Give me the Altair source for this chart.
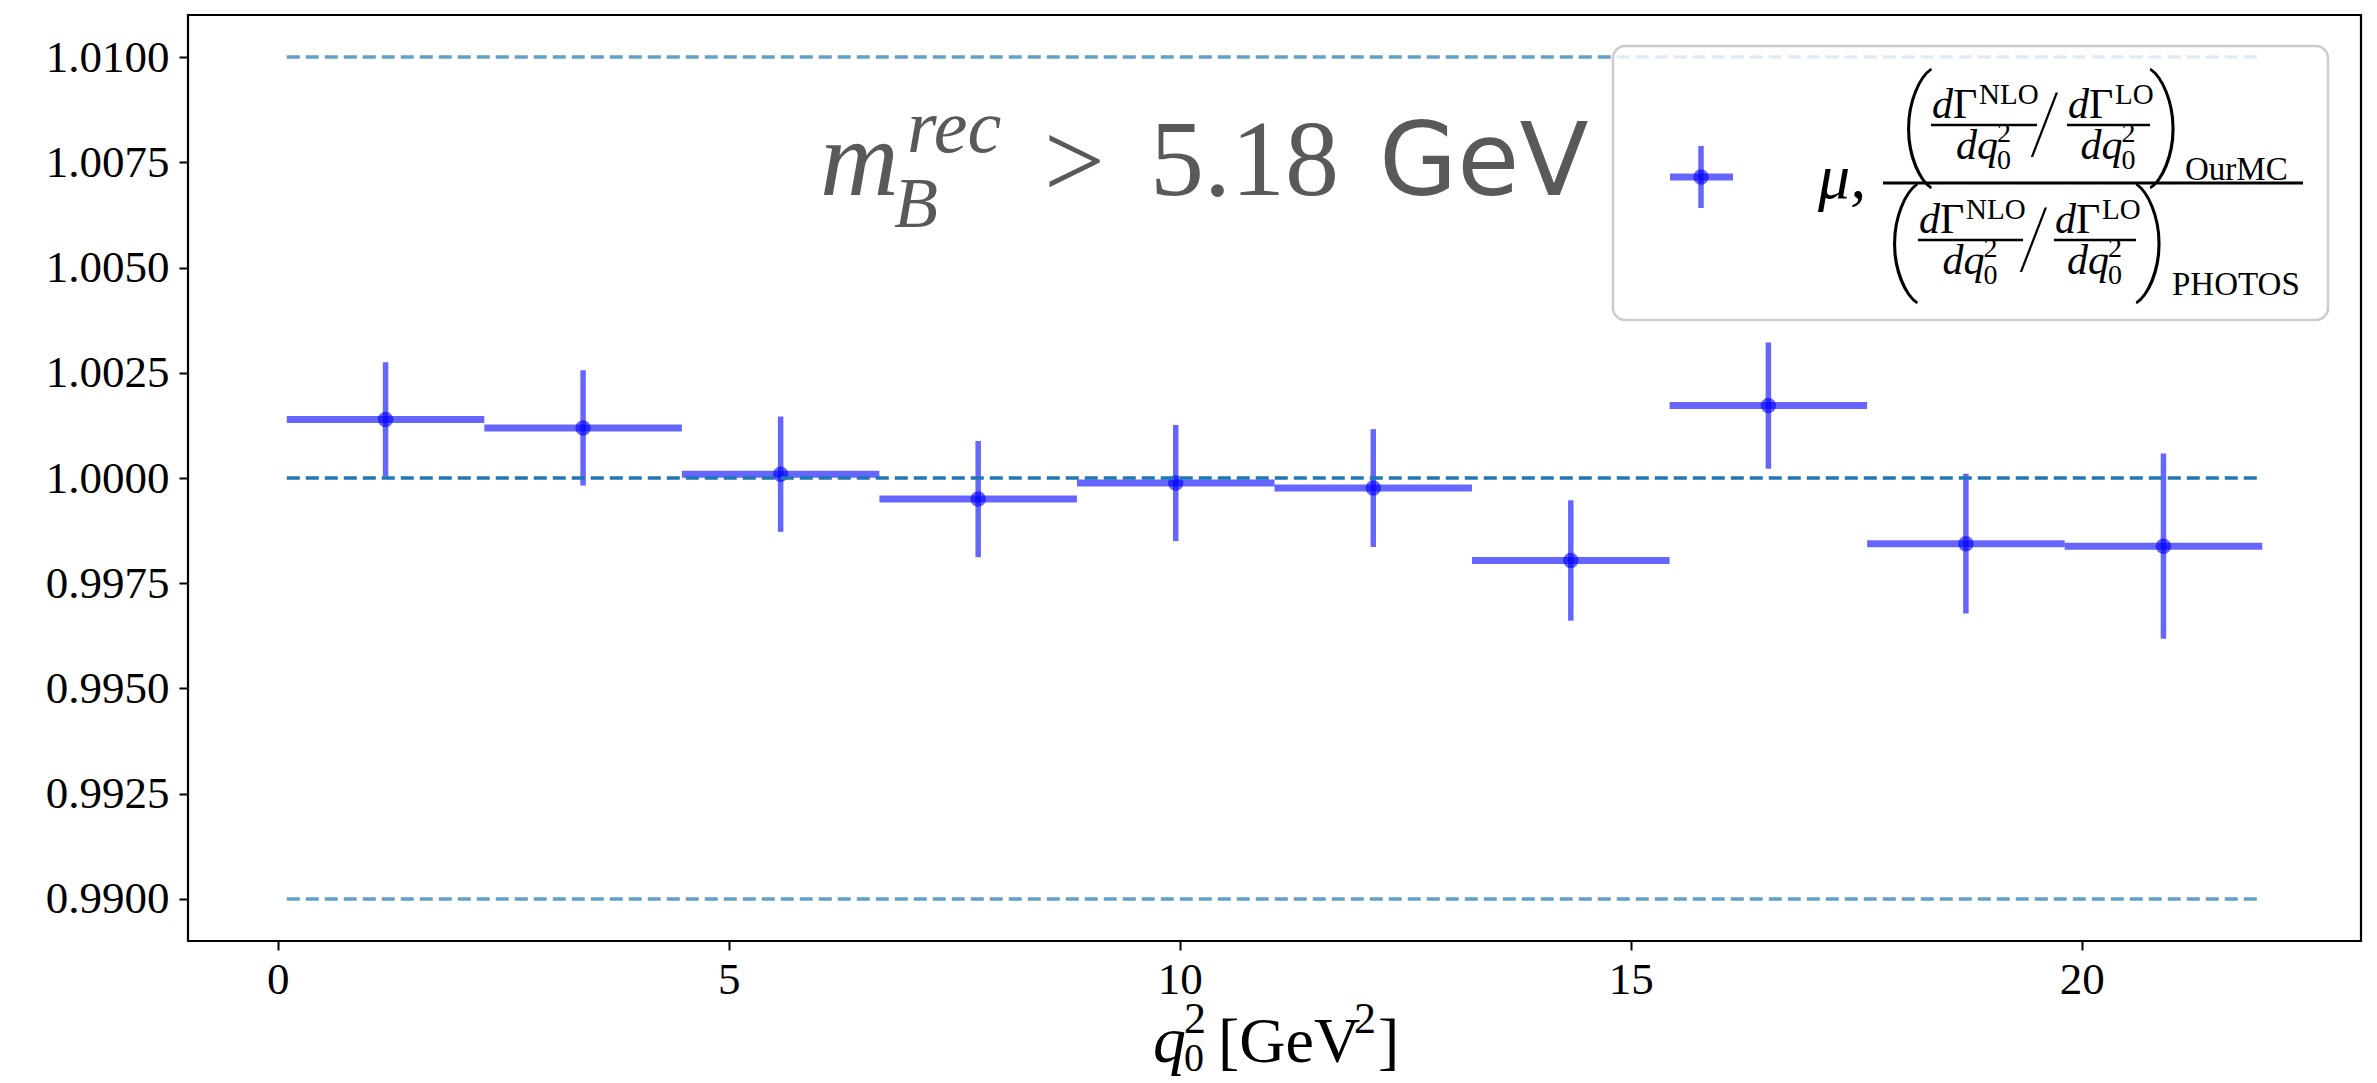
import altair as alt
import pandas as pd

# ---------------- data ----------------
bin_lo = [0.10, 2.29, 4.48, 6.67, 8.86, 11.05, 13.24, 15.43, 17.62, 19.81]
bin_hi = [2.29, 4.48, 6.67, 8.86, 11.05, 13.24, 15.43, 17.62, 19.81, 22.00]
bin_center = [1.195, 3.385, 5.575, 7.765, 9.955, 12.145, 14.335, 16.525, 18.715, 20.905]
ratio = [1.00139, 1.00119, 1.00009, 0.99950, 0.99988, 0.99976, 0.99804, 1.00172, 0.99844, 0.99838]
ratio_err = [0.00136, 0.00137, 0.00137, 0.00138, 0.00138, 0.00140, 0.00143, 0.00150, 0.00166, 0.00220]

band_levels = [0.99, 1.01]
center_level = [1.0]
ref_x_start = 0.1
ref_x_end = 22.0

x_ticks = [0, 5, 10, 15, 20]
y_ticks = [0.99, 0.9925, 0.995, 0.9975, 1.0, 1.0025, 1.005, 1.0075, 1.01]

df = pd.DataFrame({
    "lo": bin_lo, "hi": bin_hi, "x": bin_center,
    "y": ratio, "err": ratio_err,
})
df["ylo"] = df["y"] - df["err"]
df["yhi"] = df["y"] + df["err"]

bands = pd.DataFrame({"level": band_levels, "x0": ref_x_start, "x1": ref_x_end})
centre = pd.DataFrame({"level": center_level, "x0": ref_x_start, "x1": ref_x_end})

# ---------------- layout ----------------
W, H = 2173, 926
PAD = {"left": 188, "top": 15, "right": 16, "bottom": 142}

xscale = alt.Scale(domain=[-0.995, 23.095], nice=False, zero=False)
yscale = alt.Scale(domain=[0.989, 1.011], nice=False, zero=False)
xaxis = alt.Axis(values=x_ticks, format="d", title=None, labelPadding=7)
yaxis = alt.Axis(values=y_ticks, format=".4f", title=None, labelPadding=10)

ERR_COLOR = "blue"
ERR_OP = 0.6
TAB_BLUE = "#1f77b4"
SERIF = "Liberation Serif"
GREY = "#595959"

hbars = alt.Chart(df).mark_rule(color=ERR_COLOR, opacity=ERR_OP, strokeWidth=7).encode(
    x=alt.X("lo:Q", scale=xscale, axis=xaxis),
    x2="hi:Q",
    y=alt.Y("y:Q", scale=yscale, axis=yaxis),
)
vbars = alt.Chart(df).mark_rule(color=ERR_COLOR, opacity=ERR_OP, strokeWidth=5.5).encode(
    x=alt.X("x:Q", scale=xscale, axis=xaxis),
    y=alt.Y("ylo:Q", scale=yscale, axis=yaxis),
    y2="yhi:Q",
)
dots = alt.Chart(df).mark_circle(color=ERR_COLOR, opacity=ERR_OP, size=240).encode(
    x=alt.X("x:Q", scale=xscale, axis=xaxis),
    y=alt.Y("y:Q", scale=yscale, axis=yaxis),
)
band_lines = alt.Chart(bands).mark_rule(
    color=TAB_BLUE, opacity=0.7, strokeWidth=3.5, strokeDash=[13, 6]
).encode(
    x=alt.X("x0:Q", scale=xscale, axis=xaxis),
    x2="x1:Q",
    y=alt.Y("level:Q", scale=yscale, axis=yaxis),
)
centre_line = alt.Chart(centre).mark_rule(
    color=TAB_BLUE, opacity=1.0, strokeWidth=3.5, strokeDash=[13, 6]
).encode(
    x=alt.X("x0:Q", scale=xscale, axis=xaxis),
    x2="x1:Q",
    y=alt.Y("level:Q", scale=yscale, axis=yaxis),
)

ONE = alt.Data(values=[{"k": 1}])
ann = []


def txt(s, x, y, size, italic=False, font=SERIF, color="black", align="left", weight="normal"):
    ann.append(
        alt.Chart(ONE).mark_text(
            align=align, baseline="alphabetic", font=font, fontSize=size,
            fontStyle="italic" if italic else "normal", color=color, fontWeight=weight,
        ).encode(x=alt.value(x), y=alt.value(y), text=alt.value(s))
    )


def hline(x0, x1, y, w, color="black", opacity=1.0):
    ann.append(
        alt.Chart(ONE).mark_rule(color=color, strokeWidth=w, opacity=opacity).encode(
            x=alt.value(x0), x2=alt.value(x1), y=alt.value(y)
        )
    )


def vline(x, y0, y1, w, color="black", opacity=1.0):
    ann.append(
        alt.Chart(ONE).mark_rule(color=color, strokeWidth=w, opacity=opacity).encode(
            x=alt.value(x), y=alt.value(y0), y2=alt.value(y1)
        )
    )


# ---- title-like annotation: m_B^rec > 5.18 GeV ----
txt("m", 632, 180, 109, italic=True, color=GREY)
txt("rec", 719, 137, 76, italic=True, color=GREY)
txt("B", 706, 212, 72, italic=True, color=GREY)
txt(">", 856, 182, 108, color=GREY)
txt("5.18", 962, 180, 108, color=GREY)
txt("GeV", 1191, 180, 101, font="DejaVu Sans", color=GREY)

# ---- legend box ----
ann.append(
    alt.Chart(ONE).mark_rect(
        fill="white", fillOpacity=0.8, stroke="#cccccc", strokeWidth=2.5, cornerRadius=12
    ).encode(x=alt.value(1425), x2=alt.value(2140), y=alt.value(31), y2=alt.value(305))
)
# legend symbol
hline(1482, 1545, 162, 7, color=ERR_COLOR, opacity=ERR_OP)
vline(1513, 131, 193, 5.5, color=ERR_COLOR, opacity=ERR_OP)
ann.append(
    alt.Chart(ONE).mark_circle(color=ERR_COLOR, opacity=ERR_OP, size=240).encode(
        x=alt.value(1513), y=alt.value(162)
    )
)

# legend label
txt("μ,", 1630, 183, 64, italic=True)
hline(1695, 2115, 168, 3)


def frac(a, b, L, sup):
    c = (a + b) / 2
    txt("d", a + 1, L - 7, 42, italic=True)
    txt("Γ", a + 22, L - 7, 42)
    txt(sup, a + 48, L - 21, 29)
    hline(a, b, L, 2.5)
    txt("dq", c - 28, L + 34, 42, italic=True)
    txt("2", c + 13, L + 17, 28)
    txt("0", c + 13, L + 44, 28)


PAREN_FONT = "Roboto"
# numerator
txt("(", 1728, 147, 118, align="center", font=PAREN_FONT, weight=100)
frac(1743, 1849, 110, "NLO")
txt("/", 1857, 137, 84, align="center", font=PAREN_FONT, weight=100)
frac(1879, 1962, 110, "LO")
txt(")", 1978, 147, 118, align="center", font=PAREN_FONT, weight=100)
txt("OurMC", 1997, 165, 33)
# denominator
txt("(", 1714, 262, 118, align="center", font=PAREN_FONT, weight=100)
frac(1730, 1835, 225, "NLO")
txt("/", 1846, 252, 84, align="center", font=PAREN_FONT, weight=100)
frac(1866, 1948, 225, "LO")
txt(")", 1964, 262, 118, align="center", font=PAREN_FONT, weight=100)
txt("PHOTOS", 1984, 280, 33)

# ---- x axis title: q_0^2 [GeV^2] ----
txt("q", 965, 1047, 66, italic=True)
txt("2", 996, 1018, 44)
txt("0", 996, 1056, 40)
txt("[GeV", 1030, 1047, 64)
txt("2", 1166, 1018, 44)
txt("]", 1190, 1047, 64)

chart = alt.layer(hbars, vbars, dots, centre_line, band_lines, *ann).properties(
    width=W, height=H, padding=PAD, autosize=alt.AutoSizeParams(type="none"),
    background="white",
).configure_axis(
    labelFont=SERIF, labelFontSize=45, labelColor="black",
    tickColor="black", tickSize=9, tickWidth=2, domain=False, grid=False,
).configure_view(stroke="black", strokeWidth=2.2)

chart.save("out.html", embed_options={"renderer": "svg", "actions": False})
